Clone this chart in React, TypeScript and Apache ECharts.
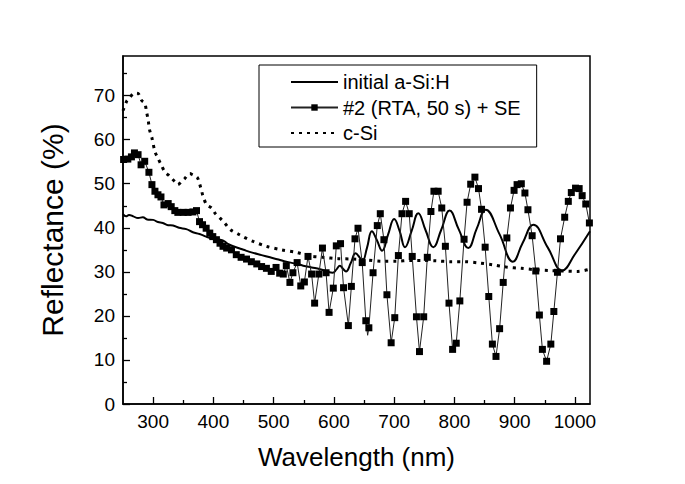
import React, { useEffect, useRef } from "react";
import * as echarts from "echarts";

const FONT = "'Liberation Sans', Arial, Helvetica, sans-serif";

const seriesNames = ["initial a-Si:H", "#2 (RTA, 50 s) + SE", "c-Si"];

const xTickValues = [300, 400, 500, 600, 700, 800, 900, 1000];
const xMinorTicks = [350, 450, 550, 650, 750, 850, 950];
const yTickValues = [0, 10, 20, 30, 40, 50, 60, 70];
const yMinorTicks = [5, 15, 25, 35, 45, 55, 65, 75];

const initialWl = [
  250, 255, 260, 267, 275, 283, 290, 300, 308, 316, 325, 333, 343, 355, 366, 377, 388, 397, 405, 416,
  425, 433, 450, 466, 480, 494, 508, 521, 535, 549, 563, 577, 590, 598, 604, 610, 615, 620, 628, 636,
  642, 647, 655, 663, 671, 680, 690, 700, 709, 718, 729, 740, 752, 765, 778, 792, 807, 823, 837, 852,
  875, 897, 913, 931, 955, 979, 1000, 1025,
];
const initialR = [
  43.1, 42.6, 42.9, 42.6, 42.2, 42.4, 41.9, 41.8, 41.3, 41.1, 40.6, 40.5, 40.0, 39.7, 39.0, 38.6, 38.0, 37.6, 37.4, 37.1,
  36.3, 35.8, 35.0, 34.3, 33.8, 33.3, 32.8, 32.3, 31.9, 31.4, 31.0, 30.6, 30.0, 29.8, 30.5, 31.4, 30.7, 30.1, 32.0, 34.2,
  33.4, 32.3, 35.5, 39.2, 37.3, 34.8, 38.5, 42.0, 39.3, 35.6, 39.3, 43.3, 39.5, 35.6, 39.5, 43.9, 39.7, 35.4, 39.8, 44.1,
  38.5, 32.3, 36.5, 40.7, 35.5, 30.3, 34.0, 39.2,
];

const rtaWl = [
  251, 258, 264, 269, 275, 280, 286, 293, 298, 303, 308, 313, 318, 325, 330, 336, 341, 350, 358, 366,
  372, 377, 382, 388, 394, 399, 405, 411, 416, 422, 430, 438, 446, 455, 463, 472, 480, 488, 496, 504,
  510, 516, 521, 527, 532, 539, 545, 551, 557, 563, 568, 575, 581, 587, 592, 599, 604, 611, 616, 624,
  629, 635, 640, 647, 653, 658, 665, 672, 677, 683, 688, 695, 701, 707, 713, 719, 725, 730, 737, 742,
  749, 755, 761, 766, 773, 779, 785, 791, 797, 803, 809, 816, 821, 827, 834, 840, 845, 851, 857, 863,
  869, 875, 881, 887, 893, 899, 904, 911, 917, 922, 929, 935, 941, 946, 953, 960, 965, 971, 976, 983,
  989, 994, 1001, 1007, 1012, 1018, 1024,
];
const rtaR = [
  55.5, 55.6, 56.1, 57.0, 56.6, 54.3, 55.1, 52.6, 49.8, 48.3, 47.5, 47.0, 45.2, 45.5, 44.8, 43.9, 43.5, 43.5, 43.5, 43.6,
  43.9, 41.4, 40.7, 39.9, 38.8, 38.0, 37.3, 36.5, 35.8, 35.4, 35.0, 33.9, 33.3, 32.9, 32.3, 31.8, 31.2, 30.8, 30.1, 31.0,
  29.7, 29.5, 31.4, 27.6, 29.8, 32.1, 26.8, 27.7, 33.5, 29.5, 22.9, 29.5, 35.4, 29.8, 20.8, 26.3, 35.9, 36.4, 26.4, 17.8,
  26.7, 37.5, 39.9, 32.1, 18.9, 17.3, 29.8, 40.5, 43.2, 37.3, 24.8, 13.9, 19.6, 33.7, 43.2, 46.0, 43.2, 33.5, 19.8, 11.9,
  19.8, 33.3, 43.7, 48.3, 48.3, 44.5, 35.8, 22.9, 12.4, 13.8, 23.4, 37.4, 45.8, 49.9, 51.5, 48.9, 44.2, 35.6, 24.4, 13.6,
  10.8, 17.1, 27.6, 37.7, 44.5, 48.5, 49.8, 50.0, 47.9, 44.1, 38.2, 30.2, 20.2, 12.4, 9.7, 13.6, 21.0, 29.9, 37.5, 42.4,
  46.0, 48.0, 49.0, 48.9, 47.3, 45.4, 41.1,
];
// points of the thin connecting line that carry no square
const rtaTipWl = [656];
const rtaTipR = [15.6];

const cSiWl = [
  250, 256, 261, 269, 275, 281, 286, 289, 292, 294, 298, 303, 308, 314, 319, 325, 330, 336, 341, 347,
  352, 361, 366, 373, 376, 380, 383, 389, 397, 404, 411, 418, 429, 441, 449, 466, 488, 513, 538, 560,
  582, 607, 632, 654, 679, 704, 726, 748, 770, 795, 817, 842, 864, 886, 911, 933, 958, 980, 1005, 1025,
];
const cSiR = [
  66.6, 68.7, 69.5, 70.6, 70.5, 68.9, 68.3, 66.4, 64.2, 62.3, 60.4, 57.3, 55.8, 54.1, 52.8, 52.0, 51.3, 50.5, 49.8, 50.5,
  51.1, 52.3, 52.0, 51.5, 50.5, 48.6, 47.1, 45.2, 44.5, 43.1, 42.2, 41.2, 39.5, 38.6, 38.0, 36.9, 35.8, 35.0, 34.4, 33.6,
  33.3, 33.0, 32.9, 32.7, 32.4, 32.4, 32.6, 32.6, 32.5, 32.3, 32.3, 32.0, 31.6, 31.1, 30.8, 30.5, 30.3, 30.2, 30.1, 30.6,
];

function zip(xs: number[], ys: number[]) {
  return xs.map((x, i) => [x, ys[i]]);
}

function buildRta() {
  const pts: any[] = rtaWl.map((x, i) => ({ value: [x, rtaR[i]] }));
  rtaTipWl.forEach((x, i) => pts.push({ value: [x, rtaTipR[i]], symbol: "none" }));
  pts.sort((a, b) => a.value[0] - b.value[0]);
  return pts;
}

const X_MIN = 250;
const X_MAX = 1025;
const Y_MIN = 0;
const Y_MAX = 79;

export default function App() {
  const ref = useRef<HTMLDivElement>(null);
  useEffect(() => {
    if (!ref.current) return;
    const chart = echarts.init(ref.current, undefined, { renderer: "svg" });
    const axisColor = "#000";
    const plain = (v: number) => String(v);
    const option: any = {
      animation: false,
      backgroundColor: "#fff",
      textStyle: { fontFamily: FONT, color: "#000" },
      grid: {
        left: 123,
        right: 95,
        top: 56,
        bottom: 80,
        show: true,
        borderColor: axisColor,
        borderWidth: 1.5,
        backgroundColor: "transparent",
      },
      legend: {
        data: [
          { name: seriesNames[0], itemStyle: { opacity: 0 } },
          { name: seriesNames[1] },
          { name: seriesNames[2], itemStyle: { opacity: 0 } },
        ],
        orient: "vertical",
        left: 259,
        top: 65,
        padding: [7, 16, 4, 31],
        itemGap: 5.5,
        itemWidth: 47,
        itemHeight: 8,
        borderColor: "#000",
        borderWidth: 1,
        backgroundColor: "#fff",
        borderRadius: 0,
        textStyle: { fontFamily: FONT, fontSize: 20, color: "#000", lineHeight: 20 },
      },
      xAxis: [
        {
          type: "value",
          min: X_MIN,
          max: X_MAX,
          name: "Wavelength (nm)",
          nameLocation: "middle",
          nameGap: 40,
          nameTextStyle: { fontFamily: FONT, fontSize: 26, color: "#000" },
          axisLine: { show: true, lineStyle: { color: axisColor, width: 1.5 } },
          axisTick: {
            show: true,
            inside: true,
            length: 7,
            customValues: xTickValues,
            lineStyle: { color: axisColor, width: 1.3 },
          },
          axisLabel: {
            customValues: xTickValues,
            formatter: plain,
            margin: 8,
            fontFamily: FONT,
            fontSize: 19,
            color: "#000",
          },
          splitLine: { show: false },
        },
        {
          type: "value",
          position: "bottom",
          min: X_MIN,
          max: X_MAX,
          axisLine: { show: false },
          axisTick: {
            show: true,
            inside: true,
            length: 4,
            customValues: xMinorTicks,
            lineStyle: { color: axisColor, width: 1.3 },
          },
          axisLabel: { show: false },
          splitLine: { show: false },
        },
      ],
      yAxis: [
        {
          type: "value",
          min: Y_MIN,
          max: Y_MAX,
          name: "Reflectance (%)",
          nameLocation: "middle",
          nameGap: 56,
          nameRotate: 90,
          nameTextStyle: { fontFamily: FONT, fontSize: 30, color: "#000" },
          axisLine: { show: true, lineStyle: { color: axisColor, width: 1.5 } },
          axisTick: {
            show: true,
            inside: true,
            length: 7,
            customValues: yTickValues,
            lineStyle: { color: axisColor, width: 1.3 },
          },
          axisLabel: {
            customValues: yTickValues,
            formatter: plain,
            margin: 8,
            fontFamily: FONT,
            fontSize: 19,
            color: "#000",
          },
          splitLine: { show: false },
        },
        {
          type: "value",
          position: "left",
          min: Y_MIN,
          max: Y_MAX,
          axisLine: { show: false },
          axisTick: {
            show: true,
            inside: true,
            length: 4,
            customValues: yMinorTicks,
            lineStyle: { color: axisColor, width: 1.3 },
          },
          axisLabel: { show: false },
          splitLine: { show: false },
        },
      ],
      series: [
        {
          name: seriesNames[0],
          type: "line",
          xAxisIndex: 0,
          yAxisIndex: 0,
          data: zip(initialWl, initialR),
          smooth: 0.45,
          symbol: "none",
          showSymbol: false,
          lineStyle: { color: "#000", width: 2 },
          itemStyle: { color: "#000" },
          z: 3,
        },
        {
          name: seriesNames[1],
          type: "line",
          xAxisIndex: 0,
          yAxisIndex: 0,
          data: buildRta(),
          symbol: "rect",
          symbolSize: 7,
          showSymbol: true,
          showAllSymbol: true,
          lineStyle: { color: "#222", width: 1 },
          itemStyle: { color: "#000" },
          z: 4,
        },
        {
          name: seriesNames[2],
          type: "line",
          xAxisIndex: 0,
          yAxisIndex: 0,
          data: zip(cSiWl, cSiR),
          smooth: 0.3,
          symbol: "none",
          showSymbol: false,
          lineStyle: { color: "#000", width: 3, type: [3, 5] },
          itemStyle: { color: "#000" },
          z: 2,
        },
      ],
    };
    chart.setOption(option);
    return () => chart.dispose();
  }, []);
  return (
    <div
      ref={ref}
      style={{ position: "absolute", left: 0, top: 0, width: 685, height: 484, background: "#fff" }}
    />
  );
}
